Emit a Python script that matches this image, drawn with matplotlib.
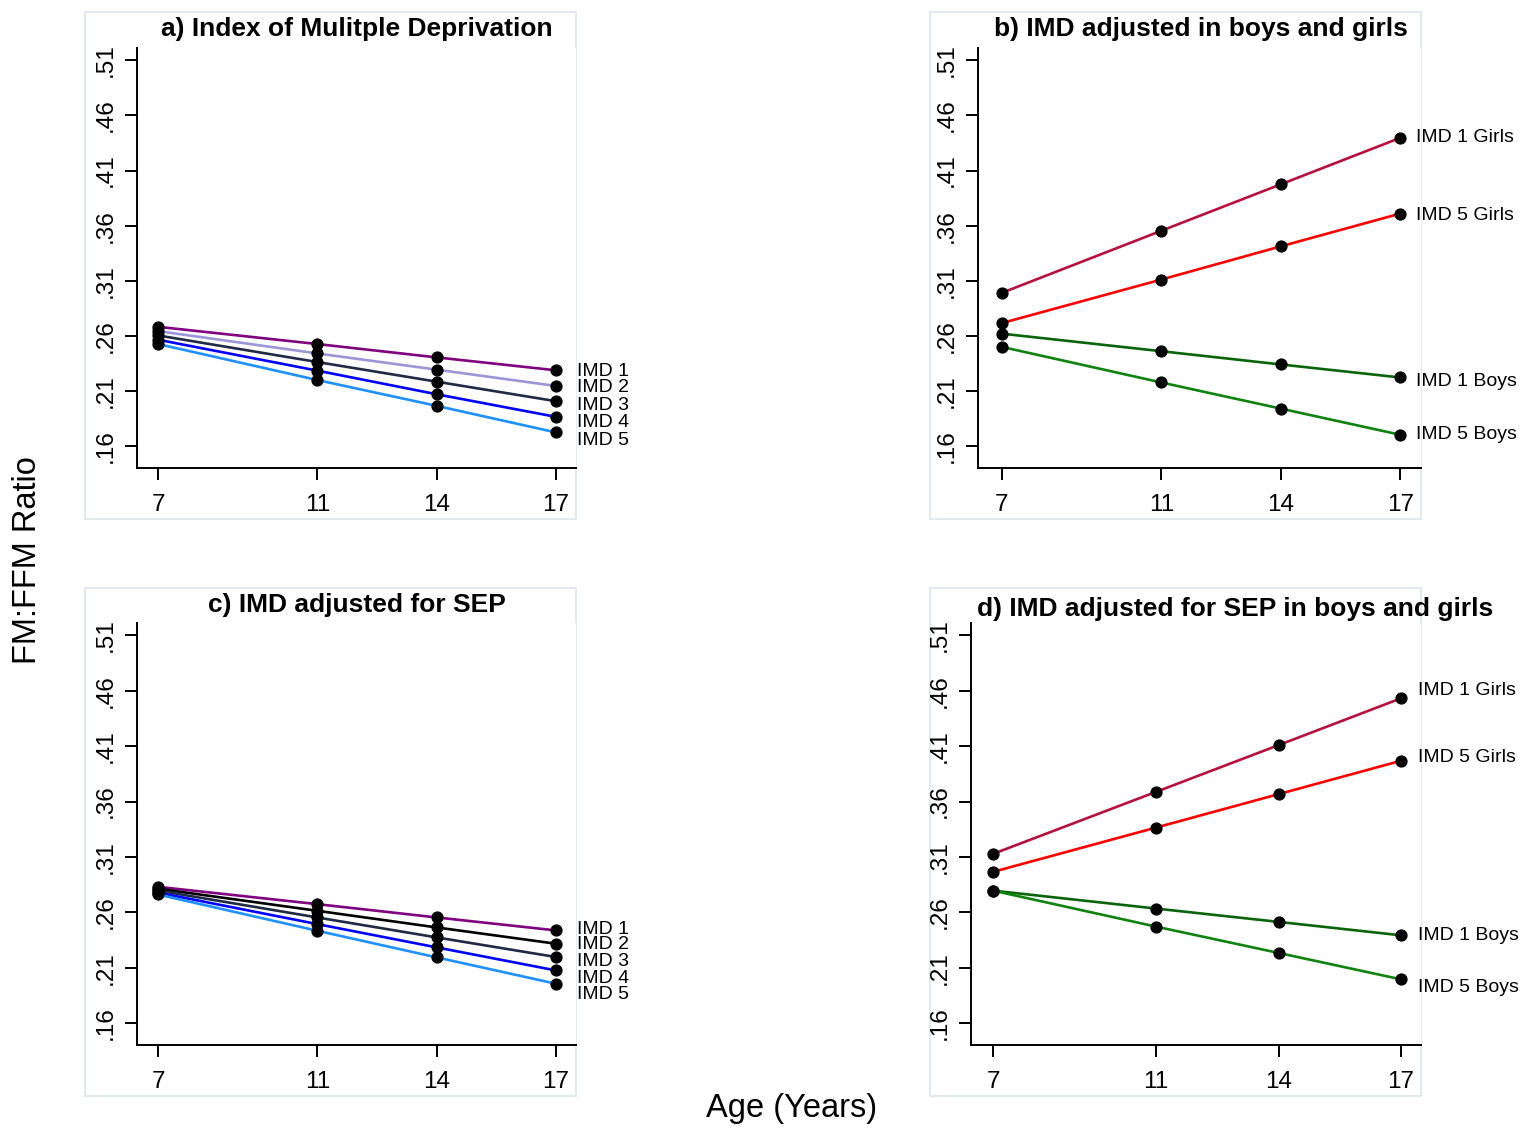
import matplotlib
matplotlib.use("Agg")
import matplotlib.pyplot as plt
from matplotlib.patches import Rectangle

plt.rcParams['font.family'] = ['Liberation Sans', 'DejaVu Sans']

# ---------------- data ----------------
ages = [7, 11, 14, 17]
yticks = [0.16, 0.21, 0.26, 0.31, 0.36, 0.41, 0.46, 0.51]
ytick_labels = ['.16', '.21', '.26', '.31', '.36', '.41', '.46', '.51']

imd_labels = ['IMD 1', 'IMD 2', 'IMD 3', 'IMD 4', 'IMD 5']
sex_labels = ['IMD 1 Girls', 'IMD 5 Girls', 'IMD 1 Boys', 'IMD 5 Boys']

titles = ['a) Index of Mulitple Deprivation',
          'b) IMD adjusted in boys and girls',
          'c) IMD adjusted for SEP',
          'd) IMD adjusted for SEP in boys and girls']

# panel a: Index of Multiple Deprivation
a_imd1 = [0.2684, 0.2528, 0.2407, 0.2290]
a_imd2 = [0.2645, 0.2443, 0.2296, 0.2148]
a_imd3 = [0.2606, 0.2365, 0.2187, 0.2010]
a_imd4 = [0.2567, 0.2287, 0.2073, 0.1868]
a_imd5 = [0.2528, 0.2202, 0.1968, 0.1727]

# panel b: IMD adjusted in boys and girls
b_imd1_girls = [0.2992, 0.3554, 0.3975, 0.4396]
b_imd5_girls = [0.2718, 0.3112, 0.3413, 0.3710]
b_imd1_boys = [0.2622, 0.2463, 0.2343, 0.2225]
b_imd5_boys = [0.2502, 0.2180, 0.1943, 0.1706]

# panel c: IMD adjusted for SEP
c_imd1 = [0.2831, 0.2675, 0.2555, 0.2438]
c_imd2 = [0.2814, 0.2615, 0.2465, 0.2318]
c_imd3 = [0.2797, 0.2555, 0.2375, 0.2198]
c_imd4 = [0.2779, 0.2495, 0.2285, 0.2077]
c_imd5 = [0.2762, 0.2435, 0.2195, 0.1957]

# panel d: IMD adjusted for SEP in boys and girls
d_imd1_girls = [0.3128, 0.3688, 0.4109, 0.4531]
d_imd5_girls = [0.2966, 0.3366, 0.3667, 0.3968]
d_imd1_boys = [0.2797, 0.2635, 0.2515, 0.2394]
d_imd5_boys = [0.2797, 0.2472, 0.2235, 0.1997]

# ---------------- styling ----------------
W, H = 1523, 1129
fig = plt.figure(figsize=(W / 100, H / 100), dpi=100)
fig.patch.set_facecolor('white')

imd_colors_a = ['#800080', '#9b96d8', '#1f2a44', '#0000ff', '#1e90ff']
imd_colors_c = ['#800080', '#000000', '#1f2a44', '#0000ff', '#1e90ff']
sex_colors = ['#b8103c', '#ff0000', '#0a640a', '#0f820f']

BOX_COLOR = '#e3eaef'


def px_axes(l, t, r, b):
    return [l / W, 1 - b / H, (r - l) / W, (b - t) / H]


def add_box(l, t, r, b):
    rect = Rectangle((l / W, 1 - b / H), (r - l) / W, (b - t) / H,
                     transform=fig.transFigure, facecolor='white',
                     edgecolor=BOX_COLOR, lw=1.5, zorder=-1)
    fig.patches.append(rect)


def draw(ax, series, colors, labels, xlim, label_dx, label_dy):
    for vals, c in zip(series, colors):
        ax.plot(ages, vals, color=c, lw=1.9, marker='o', ms=7.8,
                mfc='black', mec='black', zorder=3, clip_on=False)
    for vals, lab, dy in zip(series, labels, label_dy):
        ax.annotate(lab, xy=(ages[-1], vals[-1]), xytext=(label_dx, dy),
                    textcoords='offset pixels', ha='left', va='center',
                    fontsize=14, annotation_clip=False)
    ax.set_xlim(*xlim)
    ax.set_ylim(0.1405, 0.521)
    ax.set_xticks(ages)
    ax.set_xticklabels([str(a) for a in ages])
    ax.set_yticks(yticks)
    ax.set_yticklabels(ytick_labels, rotation=90, va='center')
    for s in ['top', 'right']:
        ax.spines[s].set_visible(False)
    for s in ['left', 'bottom']:
        ax.spines[s].set_linewidth(1.4)
    ax.tick_params(axis='both', direction='out', length=8.6, width=1.4,
                   labelsize=17.5, colors='black')
    ax.tick_params(axis='x', pad=10)
    ax.tick_params(axis='y', pad=6)
    ax.set_facecolor('white')


# boxes (graph regions)
add_box(85, 12, 576, 519)
add_box(930, 12, 1421, 519)
add_box(85, 588, 576, 1096)
add_box(930, 588, 1421, 1096)

ax_a = fig.add_axes(px_axes(137, 48, 576, 468))
ax_b = fig.add_axes(px_axes(978, 48, 1421, 468))
ax_c = fig.add_axes(px_axes(137, 623, 576, 1045))
ax_d = fig.add_axes(px_axes(971, 623, 1421, 1045))

draw(ax_a, [a_imd1, a_imd2, a_imd3, a_imd4, a_imd5], imd_colors_a,
     imd_labels, (6.47, 17.5), 21, [-1, -2, -4, -6, -8])
draw(ax_b, [b_imd1_girls, b_imd5_girls, b_imd1_boys, b_imd5_boys],
     sex_colors, sex_labels, (6.4, 17.52), 16, [0, -2, -4, 0])
draw(ax_c, [c_imd1, c_imd2, c_imd3, c_imd4, c_imd5], imd_colors_c,
     imd_labels, (6.47, 17.5), 21, [1, -1, -4, -8, -11])
draw(ax_d, [d_imd1_girls, d_imd5_girls, d_imd1_boys, d_imd5_boys],
     sex_colors, sex_labels, (6.46, 17.49), 17, [8, 3, 0, -8])

# titles
title_pos = [(357, 29), (1201, 29), (357, 605), (1235, 609)]
for t, (x, y) in zip(titles, title_pos):
    fig.text(x / W, 1 - y / H, t, ha='center', va='center',
             fontsize=19, fontweight='bold')

fig.text(28 / W, 1 - 560 / H, 'FM:FFM Ratio', rotation=90,
         ha='center', va='center', fontsize=23.5)
fig.text(792 / W, 1 - 1108 / H, 'Age (Years)', ha='center', va='center',
         fontsize=23.5)

fig.savefig('out.png', dpi=100, facecolor='white')
